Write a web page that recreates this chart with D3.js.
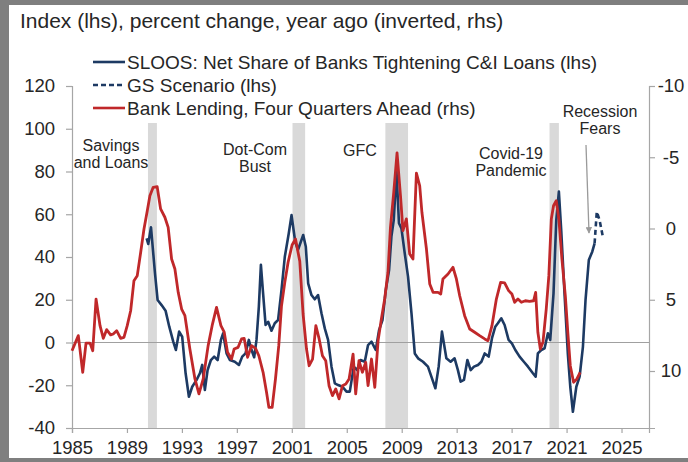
<!DOCTYPE html>
<html>
<head>
<meta charset="utf-8">
<script src="https://cdn.jsdelivr.net/npm/d3@7"></script>
<style>
  html, body { margin: 0; padding: 0; background: #fff; }
  svg { display: block; font-family: "Liberation Sans", Arial, Helvetica, sans-serif; }
</style>
</head>
<body>
<svg id="chart" width="688" height="462"></svg>
<script>
// SLOOS: net share of banks tightening C&I loans (lhs, index)
const sloosDates = [1990.43,1990.55,1990.75,1991.04,1991.23,1991.52,1991.81,1992.08,1992.37,1992.56,1992.80,1993.02,1993.27,1993.51,1993.75,1994.07,1994.31,1994.48,1994.67,1994.87,1995.11,1995.35,1995.60,1995.84,1996.00,1996.25,1996.49,1996.85,1997.15,1997.39,1997.63,1997.87,1998.07,1998.26,1998.43,1998.60,1998.75,1998.91,1999.09,1999.28,1999.52,1999.76,2000.00,2000.25,2000.49,2000.78,2000.98,2001.25,2001.45,2001.83,2002.02,2002.19,2002.43,2002.67,2002.91,2003.16,2003.40,2003.64,2003.89,2004.13,2004.37,2004.69,2004.98,2005.22,2005.51,2005.75,2006.00,2006.31,2006.55,2006.80,2007.11,2007.35,2007.60,2007.84,2008.08,2008.25,2008.42,2008.62,2008.80,2008.98,2009.22,2009.46,2009.71,2009.95,2010.19,2010.55,2010.91,2011.16,2011.45,2011.69,2011.93,2012.25,2012.56,2012.85,2013.09,2013.29,2013.53,2013.78,2014.02,2014.26,2014.55,2014.80,2015.04,2015.33,2015.57,2015.81,2016.00,2016.25,2016.49,2016.78,2017.02,2017.27,2017.58,2017.89,2018.19,2018.55,2018.75,2018.91,2019.16,2019.40,2019.64,2019.81,2020.05,2020.25,2020.44,2020.61,2020.85,2021.09,2021.27,2021.46,2021.71,2021.95,2022.19,2022.38,2022.62,2022.87,2023.04];
const sloosValues = [48.7,46.1,53.9,32.4,19.9,17.5,14.9,7.4,0.4,-3.5,5.1,2.7,-14.4,-25.4,-20.7,-17.5,-14.4,-10.5,-22.2,-12.9,-8.2,-6.6,-8.2,1.2,4.3,-5.1,-8.2,-9.0,-10.5,-6.6,-5.1,1.2,-3.5,-6.9,1.2,16.7,36.3,23.0,8.2,9.7,5.5,9.0,10.5,24.6,40.1,51.1,59.6,47.0,43.3,50.3,44.8,27.7,22.2,20.2,22.2,13.7,6.6,1.2,-11.3,-19.1,-19.9,-20.7,-23.0,-23.0,-11.3,-12.9,-8.2,-9.0,-1.2,0.4,-3.5,5.8,10.5,24.6,33.9,49.5,57.3,80.0,55.8,53.4,41.7,30.8,13.7,-5.1,-7.4,-9.0,-11.3,-16.0,-21.4,-11.3,5.1,-7.4,-9.0,-7.4,-12.9,-18.3,-17.5,-8.2,-12.9,-11.3,-10.5,-9.0,-5.1,-6.6,2.0,7.4,9.0,11.3,8.2,1.2,-0.4,-3.5,-6.6,-9.0,-11.3,-14.4,-16.0,-5.1,-3.5,-2.7,4.3,1.2,23.0,57.3,70.6,52.6,23.0,-5.1,-20.7,-32.4,-20.7,-16.0,-2.0,19.9,38.6,42.5,46.4];

// GS scenario for the SLOOS index (lhs)
const gsDates = [2023.04,2023.20,2023.40,2023.64];
const gsValues = [46.4,61.2,57.3,49.5];

// Bank lending, % change year ago, four quarters ahead (rhs, inverted)
const lendingDates = [1985.00,1985.46,1985.78,1986.02,1986.31,1986.51,1986.75,1987.04,1987.28,1987.52,1987.81,1988.00,1988.25,1988.54,1988.78,1989.02,1989.27,1989.51,1989.75,1990.00,1990.24,1990.48,1990.67,1990.91,1991.20,1991.45,1991.76,1992.00,1992.25,1992.49,1992.73,1992.98,1993.22,1993.58,1993.95,1994.24,1994.55,1994.91,1995.20,1995.52,1995.84,1996.08,1996.32,1996.61,1996.80,1997.09,1997.34,1997.53,1997.78,1998.07,1998.36,1998.60,1998.91,1999.16,1999.33,1999.57,1999.81,2000.05,2000.25,2000.49,2000.73,2001.02,2001.27,2001.58,2001.82,2002.07,2002.26,2002.51,2002.75,2002.99,2003.23,2003.47,2003.71,2003.96,2004.20,2004.44,2004.69,2004.93,2005.17,2005.46,2005.65,2005.89,2006.14,2006.38,2006.55,2006.80,2007.04,2007.28,2007.52,2007.76,2008.00,2008.18,2008.42,2008.66,2008.91,2009.09,2009.34,2009.58,2009.82,2010.07,2010.31,2010.47,2010.80,2011.04,2011.28,2011.64,2011.84,2012.00,2012.37,2012.73,2012.98,2013.22,2013.58,2013.95,2014.31,2014.67,2015.04,2015.28,2015.57,2015.89,2016.20,2016.49,2016.78,2017.02,2017.22,2017.46,2017.71,2018.00,2018.31,2018.60,2018.75,2018.91,2019.09,2019.28,2019.52,2019.71,2019.89,2020.05,2020.25,2020.44,2020.66,2020.91,2021.09,2021.27,2021.51,2021.75,2021.99];
const lendingValues = [8.58,7.52,10.09,8.04,8.04,8.58,4.95,6.82,7.71,7.10,7.47,7.40,7.17,7.71,7.64,6.82,5.77,3.66,3.31,1.67,0.04,-1.25,-2.30,-2.89,-2.93,-1.37,-0.79,-0.08,2.14,2.84,4.48,5.65,6.12,8.46,10.56,11.61,10.56,8.22,6.82,5.53,6.82,7.28,8.69,9.16,8.46,8.34,7.75,7.71,9.04,8.22,8.41,8.93,10.09,11.49,12.55,12.55,10.56,8.22,5.42,3.78,2.37,1.16,0.74,2.30,6.00,8.46,9.63,9.16,6.82,7.75,8.93,9.28,11.03,11.73,11.26,11.96,11.03,10.91,10.56,8.81,11.61,9.28,10.09,9.39,11.03,9.16,11.14,7.87,6.35,4.95,3.07,-0.08,-2.54,-5.30,-2.30,0.15,-0.67,1.79,2.14,-3.89,-3.00,-1.14,1.44,3.89,4.48,4.48,4.60,3.54,3.19,2.72,3.54,4.72,6.12,7.05,7.28,7.52,7.75,7.87,6.82,4.95,3.78,3.82,4.36,4.60,5.18,4.95,5.18,5.07,5.11,5.07,4.48,7.28,8.46,7.99,5.65,3.31,-0.67,-1.60,-1.95,-0.67,2.14,4.72,7.28,9.63,10.79,10.56,10.09];

// Recession periods (start, end) and their labels
const recessionStarts = [1990.53, 2001.05, 2007.81, 2019.76];
const recessionEnds   = [1991.18, 2001.97, 2009.46, 2020.44];
const recessionLabels = [["Savings", "and Loans"], ["Dot-Com", "Bust"], ["GFC"], ["Covid-19", "Pandemic"]];

// Axis ticks
const xTicks = [1985, 1989, 1993, 1997, 2001, 2005, 2009, 2013, 2017, 2021, 2025];
const leftTicks = [-40, -20, 0, 20, 40, 60, 80, 100, 120];
const rightTicks = [-10, -5, 0, 5, 10];

const legendLabels = [
  "SLOOS: Net Share of Banks Tightening C&I Loans (lhs)",
  "GS Scenario (lhs)",
  "Bank Lending, Four Quarters Ahead (rhs)"
];
const titleText = "Index (lhs), percent change, year ago (inverted, rhs)";

const navy = "#1d3a63";
const red = "#c0282a";
const axisGray = "#a6a6a6";
const textColor = "#262626";

const svg = d3.select("#chart");
const W = 688, H = 462;
const plot = { left: 72, right: 649, top: 86, bottom: 428 };

svg.append("rect").attr("width", W).attr("height", H).attr("fill", "#fff");

const x = d3.scaleLinear().domain([1985, 2027]).range([plot.left, plot.right]);
const yL = d3.scaleLinear().domain([-40, 120]).range([plot.bottom, plot.top]);
const yR = d3.scaleLinear().domain([-10, 14]).range([plot.top, plot.bottom]);

// recession shading
const bandTop = 123;
svg.append("g").selectAll("rect")
  .data(d3.range(recessionStarts.length))
  .join("rect")
  .attr("x", i => x(recessionStarts[i]))
  .attr("width", i => x(recessionEnds[i]) - x(recessionStarts[i]))
  .attr("y", bandTop)
  .attr("height", plot.bottom - bandTop)
  .attr("fill", "#d9d9d9");

// zero line of the left axis
svg.append("line")
  .attr("x1", plot.left).attr("x2", plot.right)
  .attr("y1", yL(0)).attr("y2", yL(0))
  .attr("stroke", "#a0a0a0").attr("stroke-width", 1.2);

// axes (plain hyphen-minus in labels)
const fontSize = 18.5;
const plain = d => String(d);
function styleAxis(g) {
  g.selectAll(".domain").attr("stroke", axisGray).attr("stroke-width", 1.2);
  g.selectAll(".tick line").attr("stroke", axisGray).attr("stroke-width", 1.2);
  g.selectAll(".tick text").attr("fill", textColor).attr("font-size", fontSize)
    .attr("font-family", "Liberation Sans, Arial, sans-serif");
}

svg.append("g")
  .attr("transform", `translate(0,${plot.bottom})`)
  .call(d3.axisBottom(x).tickValues(xTicks).tickFormat(plain).tickSizeOuter(0).tickSize(5).tickPadding(8))
  .call(styleAxis);

svg.append("g")
  .attr("transform", `translate(${plot.left},0)`)
  .call(d3.axisLeft(yL).tickValues(leftTicks).tickFormat(plain).tickSizeOuter(0).tickSize(6).tickPadding(11))
  .call(styleAxis);

const rAxis = svg.append("g")
  .attr("transform", `translate(${plot.right},0)`)
  .call(d3.axisRight(yR).tickValues(rightTicks).tickFormat(plain).tickSizeOuter(0).tickSize(6).tickPadding(9))
  .call(styleAxis);
rAxis.selectAll(".tick text").attr("text-anchor", "middle").attr("x", 22);

// series
const sloos = sloosDates.map((d, i) => [d, sloosValues[i]]);
const gs = gsDates.map((d, i) => [d, gsValues[i]]);
const lending = lendingDates.map((d, i) => [d, lendingValues[i]]);

const lineL = d3.line().x(d => x(d[0])).y(d => yL(d[1]));
const lineR = d3.line().x(d => x(d[0])).y(d => yR(d[1]));

svg.append("path").datum(sloos).attr("d", lineL)
  .attr("fill", "none").attr("stroke", navy).attr("stroke-width", 2.6)
  .attr("stroke-linejoin", "round");
svg.append("path").datum(gs).attr("d", lineL)
  .attr("fill", "none").attr("stroke", navy).attr("stroke-width", 2.6)
  .attr("stroke-dasharray", "5,3.5");
svg.append("path").datum(lending).attr("d", lineR)
  .attr("fill", "none").attr("stroke", red).attr("stroke-width", 2.8)
  .attr("stroke-linejoin", "round");

// recession labels
const ann = svg.append("g").attr("fill", textColor).attr("font-size", 16).attr("text-anchor", "middle");
recessionLabels.forEach((lines, i) => {
  const cx = [111, 255, 360, 511][i];
  const baseY = [151, 155, 156, 159][i];
  lines.forEach((t, j) => {
    ann.append("text").attr("x", cx).attr("y", baseY + j * 17).text(t);
  });
});
ann.append("text").attr("x", 600).attr("y", 117).text("Recession");
ann.append("text").attr("x", 600).attr("y", 134).text("Fears");

// arrow toward the scenario
svg.append("defs").append("marker")
  .attr("id", "arrowhead").attr("viewBox", "0 0 10 10")
  .attr("refX", 9).attr("refY", 5)
  .attr("markerWidth", 5).attr("markerHeight", 5)
  .attr("orient", "auto")
  .append("path").attr("d", "M0,0 L10,5 L0,10 z").attr("fill", "#9a9a9a");
svg.append("line")
  .attr("x1", 586).attr("y1", 145).attr("x2", 589).attr("y2", 233)
  .attr("stroke", "#9a9a9a").attr("stroke-width", 1.3)
  .attr("marker-end", "url(#arrowhead)");

// legend
const legend = svg.append("g").attr("font-size", 19).attr("fill", textColor);
const legendY = [62, 85, 108];
const legendStyles = [
  { stroke: navy, dash: null },
  { stroke: navy, dash: "5,3" },
  { stroke: red, dash: null }
];
legendLabels.forEach((label, i) => {
  legend.append("line")
    .attr("x1", 93).attr("x2", 125)
    .attr("y1", legendY[i]).attr("y2", legendY[i])
    .attr("stroke", legendStyles[i].stroke).attr("stroke-width", 2.6)
    .attr("stroke-dasharray", legendStyles[i].dash);
  legend.append("text").attr("x", 127).attr("y", legendY[i] + 6.5).text(label);
});

// title
svg.append("text").attr("x", 20).attr("y", 28)
  .attr("font-size", 21).attr("fill", textColor).text(titleText);

// outer frame
const frame = "#7f7f7f";
svg.append("rect").attr("x", 0).attr("y", 0).attr("width", W).attr("height", 5).attr("fill", frame);
svg.append("rect").attr("x", 0).attr("y", 0).attr("width", 9).attr("height", H).attr("fill", frame);
svg.append("rect").attr("x", 0).attr("y", 458).attr("width", W).attr("height", 4).attr("fill", frame);
</script>
</body>
</html>
